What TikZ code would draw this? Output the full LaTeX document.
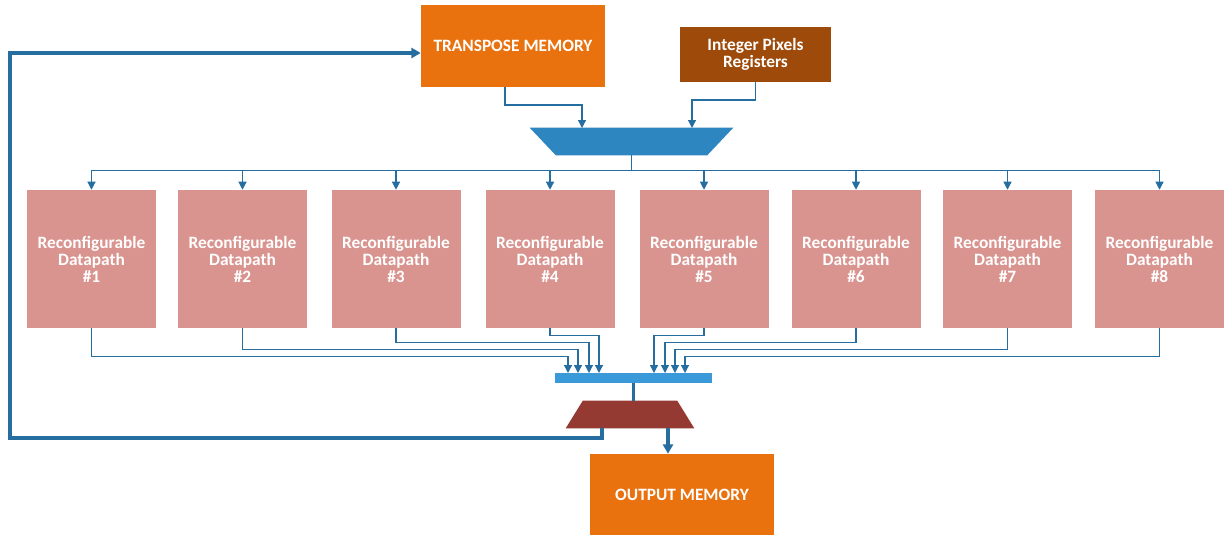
\documentclass[tikz,border=0pt]{standalone}
\usepackage{fontspec}
\setmainfont{Carlito}
\usepackage{tikz}
\usetikzlibrary{arrows.meta}

\definecolor{memorange}{RGB}{233,113,14}
\definecolor{regbrown}{RGB}{158,74,10}
\definecolor{dprose}{RGB}{217,148,143}
\definecolor{muxblue}{RGB}{46,134,193}
\definecolor{barblue}{RGB}{58,154,217}
\definecolor{muxred}{RGB}{148,58,51}
\definecolor{linkblue}{RGB}{38,110,160}

\tikzset{
  blockbox/.style={draw=none, text=white, align=center, inner sep=0pt,
    font=\bfseries\fontsize{13}{12.75}\selectfont},
  memblock/.style={blockbox, fill=memorange, minimum width=138pt, minimum height=61.5pt},
  dpblock/.style={blockbox, fill=dprose, minimum width=96.75pt, minimum height=103.5pt},
  link/.style={color=linkblue, line width=0.9pt},
  linkarrow/.style={link, -{Triangle[length=6pt,width=6pt]}},
  fb/.style={color=linkblue, line width=2.4pt},
  fbarrow/.style={fb, -{Triangle[length=7pt,width=7.5pt]}}
}

\begin{document}
\begin{tikzpicture}[x=0.75pt,y=0.75pt,yscale=-1,xscale=1]
        \useasboundingbox (0,0) rectangle (1230,535);

        % Memories and registers
        \node [memblock] (tmem) at (513,46) {TRANSPOSE MEMORY};
        \node [blockbox, fill=regbrown, minimum width=113.25pt, minimum height=41.25pt] (ipr) at (755.5,54.5) {Integer Pixels\\Registers};
        \node [memblock, minimum height=60.75pt] (omem) at (682,494.5) {OUTPUT MEMORY};

        %Shape: Trapezoid (input mux)
        \node [inner sep=0pt, minimum width=152.25pt, minimum height=20.25pt] (mux1) at (631.5,141.5) {};
        \fill [muxblue] (mux1.north west) -- (mux1.north east) -- ([xshift=-19.5pt]mux1.south east) -- ([xshift=19.5pt]mux1.south west) -- cycle ;

        % Datapaths
        \foreach \i/\x in {1/91.5, 2/242.5, 3/396, 4/550, 5/704, 6/856, 7/1007.5, 8/1159.5}
          \node [dpblock] (dp\i) at (\x,259) {Reconfigurable\\Datapath\\\#\i};

        %Shape: Rectangle (collect bar)
        \node [fill=barblue, inner sep=0pt, minimum width=117.75pt, minimum height=7.5pt] (bar) at (633.5,378) {};

        %Shape: Trapezoid (output mux)
        \node [inner sep=0pt, minimum width=96pt, minimum height=20.25pt] (mux2) at (630,414.5) {};
        \fill [muxred] ([xshift=12.75pt]mux2.north west) -- ([xshift=-12.75pt]mux2.north east) -- (mux2.south east) -- (mux2.south west) -- cycle ;

        % Inputs of the first mux
        \coordinate (t1) at (505,105);
        \coordinate (t2) at (755.5,100);
        \coordinate (mux1 in1) at (582,128);
        \coordinate (mux1 in2) at (692,128);
        \draw [linkarrow] (tmem.south -| t1) -- (t1) -| (mux1 in1) ;
        \draw [linkarrow] (ipr.south) -- (t2) -| (mux1 in2) ;

        % Fan out to datapaths
        \foreach \i in {1,...,8}
          \draw [linkarrow] (mux1.south) -- ++(0,15) -| (dp\i.north) ;

        % Datapaths to bar
        \foreach \i/\d/\x in {1/28/568, 2/21/578, 3/14/589, 4/7/599, 5/7/654, 6/14/665, 7/21/675, 8/28/685} {
          \coordinate (bin\i) at (\x,373);
          \draw [linkarrow] (dp\i.south) -- ++(0,\d) -| (bin\i) ;
        }

        % Bar to output mux
        \draw [fb] (bar.south) -- (bar.south |- mux2.north) ;

        % Output mux to output memory and feedback
        \coordinate (m2a) at (602,428);
        \coordinate (m2b) at (668,428);
        \coordinate (fbc) at (10,53);
        \draw [fbarrow] (m2b) -- (m2b |- omem.north) ;
        \draw [fbarrow] (m2a) -- ++(0,10) -| (fbc) -- (fbc -| tmem.west) ;

\end{tikzpicture}
\end{document}
